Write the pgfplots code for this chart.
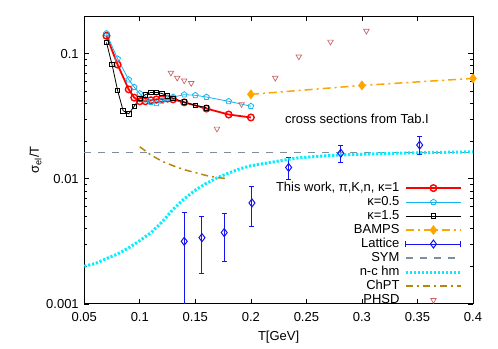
\documentclass[border=0pt]{standalone}
\usepackage{fontspec}
\setmainfont{Liberation Sans}
\usepackage{pgfplots}
\pgfplotsset{compat=1.18}
\definecolor{kblue}{RGB}{20,180,240}
\definecolor{bamps}{RGB}{255,165,0}
\definecolor{latt}{RGB}{20,20,240}
\definecolor{sym}{RGB}{128,140,160}
\definecolor{nchm}{RGB}{0,240,255}
\definecolor{chpt}{RGB}{184,134,11}
\definecolor{phsd}{RGB}{200,100,100}
\begin{document}
\begin{tikzpicture}
\begin{axis}[
  scale only axis, width=389pt, height=288pt,
  xmin=0.05, xmax=0.4, ymode=log, ymin=0.001, ymax=0.2,
  font=\fontsize{13}{15}\selectfont,
  /pgf/number format/assume math mode=true,
  xtick={0.05,0.1,0.15,0.2,0.25,0.3,0.35,0.4},
  xticklabels={0.05,0.1,0.15,0.2,0.25,0.3,0.35,0.4},
  ytick={0.001,0.01,0.1},
  yticklabels={0.001,0.01,0.1},
  minor ytick={0.002,0.003,0.004,0.005,0.006,0.007,0.008,0.009,0.02,0.03,0.04,0.05,0.06,0.07,0.08,0.09,0.2},
  tick align=inside, major tick length=5pt, minor tick length=3pt,
  axis line style={line width=0.8pt}, every tick/.style={line width=0.6pt},
  xticklabel style={yshift=-5pt},
  yticklabel style={xshift=-2pt},
  xlabel={T[GeV]}, ylabel={σ\textsubscript{el}/T},
  xlabel style={yshift=-3pt}, ylabel style={yshift=-2pt},
  legend plot pos=right, legend cell align=right,
  legend style={at={(0.981,0.434)}, anchor=north east, draw=none, fill=none,
    font=\fontsize{13}{15}\selectfont, row sep=0pt, /tikz/column sep=4pt,
    nodes={inner sep=1pt, text height=9pt, text depth=3pt}},
  legend image code/.code={\draw[mark repeat=2,mark phase=2] plot coordinates {(0pt,0pt) (27.5pt,0pt) (55pt,0pt)};},
]
\coordinate (sw) at (rel axis cs:0,0);
\coordinate (ne) at (rel axis cs:1,1);
% kappa = 1
\addplot[red, line width=1.8pt, mark=o, mark size=3.3pt, mark options={line width=1.4pt}] coordinates {
(0.07,0.139) (0.08,0.0818) (0.09,0.0518) (0.095,0.0445) (0.1,0.0416) (0.105,0.0416) (0.11,0.0424) (0.115,0.0431) (0.12,0.0434) (0.125,0.0437) (0.13,0.0431) (0.14,0.0408) (0.16,0.0364) (0.18,0.0326) (0.2,0.0309)};
\addlegendentry{This work, π,K,n, κ=1}
% kappa = 0.5
\addplot[kblue, line width=0.8pt, mark=pentagon, mark size=3pt, mark options={line width=0.8pt}] coordinates {
(0.07,0.145) (0.08,0.091) (0.09,0.062) (0.095,0.054) (0.1,0.048) (0.105,0.043) (0.11,0.041) (0.115,0.040) (0.12,0.042) (0.125,0.044) (0.13,0.045) (0.14,0.047) (0.15,0.0465) (0.16,0.045) (0.18,0.0416) (0.2,0.038)};
\addlegendentry{κ=0.5}
% kappa = 1.5
\addplot[black, line width=0.8pt, mark=square, mark size=2.3pt, mark options={line width=0.8pt}] coordinates {
(0.07,0.123) (0.075,0.082) (0.08,0.051) (0.085,0.035) (0.09,0.033) (0.095,0.038) (0.1,0.044) (0.105,0.047) (0.11,0.049) (0.115,0.049) (0.12,0.048) (0.125,0.046) (0.13,0.044) (0.14,0.041) (0.15,0.0386) (0.16,0.037)};
\addlegendentry{κ=1.5}
% BAMPS
\addplot[bamps, line width=1.5pt, dash pattern=on 8pt off 4pt on 2pt off 4pt, mark=diamond*, mark size=3.8pt, mark options={solid}] coordinates {
(0.2,0.0473) (0.3,0.0557) (0.4,0.0634)};
\addlegendentry{BAMPS}
% Lattice
\addplot[latt, line width=1pt, only marks, mark=diamond, mark size=4pt,
  legend image code/.code={\draw[latt, line width=1pt] (0pt,-3pt)--(0pt,3pt) (0pt,0pt)--(55pt,0pt) (55pt,-3pt)--(55pt,3pt); \draw[latt, line width=1pt, mark=diamond, mark size=4pt] plot coordinates {(27.5pt,0pt)};},
  error bars/.cd, y dir=both, y explicit, error bar style={line width=1pt},
  error mark options={rotate=90, mark size=2.5pt, line width=1pt}] coordinates {
(0.14,0.00316) += (0,0.0022) -= (0,0.0027)
(0.156,0.00338) += (0,0.00164) -= (0,0.00162)
(0.176,0.00371) += (0,0.00154) -= (0,0.00154)
(0.201,0.00641) += (0,0.00218) -= (0,0.00223)
(0.234,0.0123) += (0,0.0026) -= (0,0.0024)
(0.281,0.016) += (0,0.0024) -= (0,0.0024)
(0.352,0.0186) += (0,0.0033) -= (0,0.0031)};
\addlegendentry{Lattice}
% SYM
\addplot[sym, line width=1.5pt, dash pattern=on 7pt off 7pt] coordinates {(0.05,0.0162) (0.4,0.0162)};
\addlegendentry{SYM}
% n-c hm
\addplot[nchm, line width=3pt, dash pattern=on 2.2pt off 1.8pt] coordinates {
(0.05,0.0020) (0.06,0.0021) (0.07,0.0023) (0.08,0.0025) (0.09,0.0028) (0.1,0.0032) (0.11,0.0037) (0.12,0.0045) (0.13,0.0057) (0.14,0.0069) (0.15,0.0081) (0.16,0.0092) (0.17,0.0102) (0.18,0.0111) (0.19,0.0120) (0.2,0.0127) (0.22,0.0136) (0.24,0.0146) (0.26,0.0151) (0.28,0.0155) (0.3,0.0157) (0.33,0.0160) (0.36,0.0162) (0.4,0.0164)};
\addlegendentry{n-c hm}
% ChPT
\addplot[chpt, line width=1.5pt, dash pattern=on 7pt off 4pt on 2pt off 4pt] coordinates {
(0.1,0.0180) (0.11,0.0155) (0.12,0.0138) (0.13,0.0127) (0.14,0.0118) (0.15,0.0112) (0.16,0.0106) (0.17,0.0102) (0.18,0.0100)};
\addlegendentry{ChPT}
% PHSD
\addplot[phsd, only marks, mark=triangle, mark size=3.2pt, mark options={rotate=180, line width=0.7pt},
  legend image code/.code={\draw[phsd, mark=triangle, mark size=3.2pt, mark options={rotate=180, line width=0.7pt}] plot coordinates {(27.5pt,0pt)};}] coordinates {
(0.128,0.0703) (0.1337,0.0641) (0.14,0.061) (0.1463,0.0581) (0.1695,0.0251) (0.1916,0.0394) (0.222,0.064) (0.2432,0.0947) (0.2717,0.1245) (0.304,0.152)};
\addlegendentry{PHSD}
\node[anchor=west, inner sep=0pt] at (axis cs:0.2306,0.030) {cross sections from Tab.I};
\end{axis}
\path ([shift={(-84.3pt,-45pt)}]sw) rectangle ([shift={(25pt,16pt)}]ne);
\end{tikzpicture}
\end{document}
